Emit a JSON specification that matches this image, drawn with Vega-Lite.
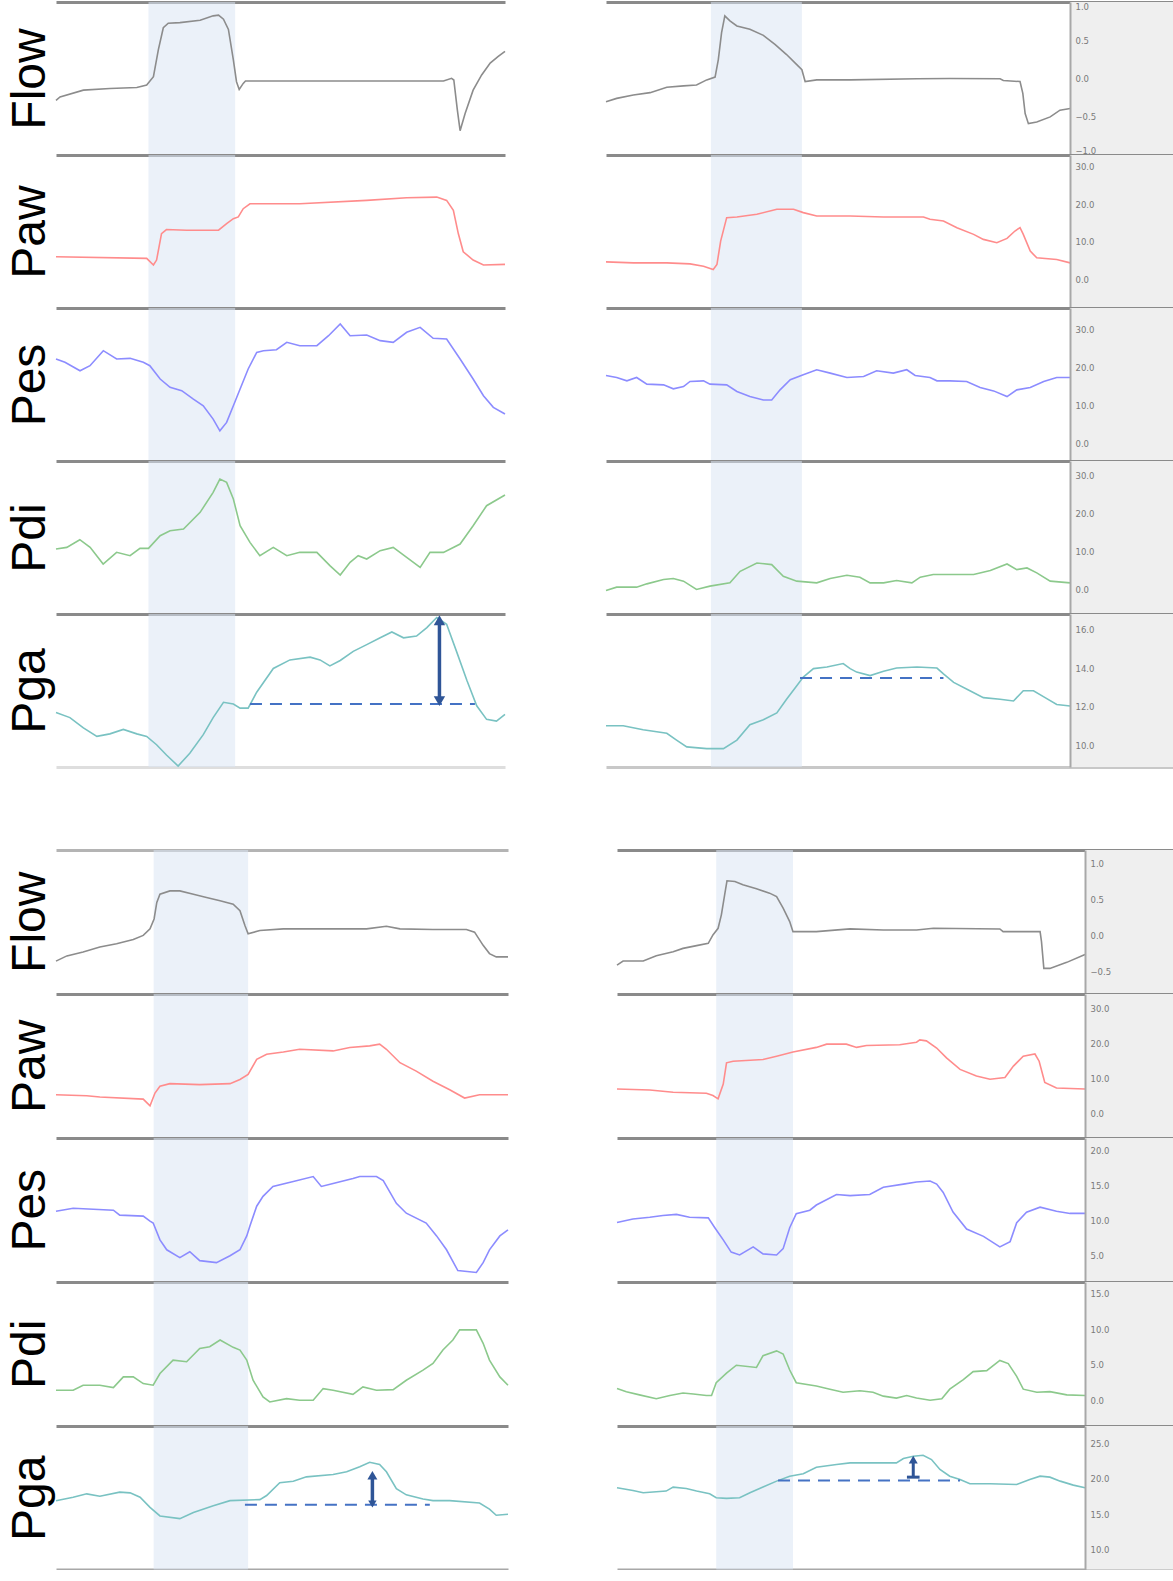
{
"$schema":"https://vega.github.io/schema/vega-lite/v6.json",
"padding":{"top":2,"left":6,"right":0,"bottom":0},
"background":"white",
"config":{
"view":{"stroke":null},
"font":"Liberation Sans",
"axis":{"grid":false,"ticks":false},
"axisTop":{"domainColor":"#8a8a8a","domainWidth":3,"labels":false},
"axisBottom":{"domainColor":"#c4c4c4","domainWidth":3,"labels":false},
"axisLeft":{"domain":false,"labels":false,"titleFont":"Liberation Sans","titleFontSize":48,"titleFontWeight":"normal","titleColor":"#000000","titlePadding":1.5},
"axisRight":{"domainColor":"#a8a8a8","domainWidth":2,"labelFontSize":8.5,"labelColor":"#7a7a7a","labelPadding":5,"labelFont":"DejaVu Sans"}
},
"datasets":{
"bands":[{"p":"TL","a":20.6,"b":39.9},{"p":"TR","a":22.6,"b":42.2},{"p":"BL","a":21.6,"b":42.5},{"p":"BR","a":21.2,"b":37.6}],
"strips":[{"p":"TR","a":100,"b":122.8},{"p":"BR","a":100,"b":119.44}],
"dashes":[{"p":"TL","t1":43.2,"t2":93.3,"v":12.15},{"p":"TR","t1":41.8,"t2":72.7,"v":13.5},{"p":"BL","t1":41.8,"t2":82.7,"v":16.32},{"p":"BR","t1":34.4,"t2":73.3,"v":19.73}],
"arrows":[{"p":"TL","t":85.4,"lo":12.3,"hi":16.48},{"p":"BL","t":70.0,"lo":16.42,"hi":20.47},{"p":"BR","t":63.3,"lo":20.2,"hi":22.68}],
"heads":[{"p":"TL","t":85.4,"v":16.48,"end":"top"},{"p":"TL","t":85.4,"v":12.3,"end":"bottom"},{"p":"BL","t":70.0,"v":20.47,"end":"top"},{"p":"BL","t":70.0,"v":16.42,"end":"bottom"},{"p":"BR","t":63.3,"v":22.68,"end":"top"},{"p":"BR","t":63.3,"v":20.2,"end":"bottom"}],
"traces":[
{"p":"TL","s":"Flow","t":0,"v":-0.285},{"p":"TL","s":"Flow","t":0.9,"v":-0.241},{"p":"TL","s":"Flow","t":6.1,"v":-0.152},{"p":"TL","s":"Flow","t":12.0,"v":-0.130},{"p":"TL","s":"Flow","t":18.0,"v":-0.117},{"p":"TL","s":"Flow","t":20.2,"v":-0.086},{"p":"TL","s":"Flow","t":21.7,"v":0.024},{"p":"TL","s":"Flow","t":22.8,"v":0.377},{"p":"TL","s":"Flow","t":23.9,"v":0.664},{"p":"TL","s":"Flow","t":25.0,"v":0.722},{"p":"TL","s":"Flow","t":27.6,"v":0.731},{"p":"TL","s":"Flow","t":32.1,"v":0.762},{"p":"TL","s":"Flow","t":35.0,"v":0.819},{"p":"TL","s":"Flow","t":36.2,"v":0.828},{"p":"TL","s":"Flow","t":37.3,"v":0.775},{"p":"TL","s":"Flow","t":38.4,"v":0.642},{"p":"TL","s":"Flow","t":39.5,"v":0.245},{"p":"TL","s":"Flow","t":40.2,"v":-0.042},{"p":"TL","s":"Flow","t":40.8,"v":-0.143},{"p":"TL","s":"Flow","t":41.7,"v":-0.064},{"p":"TL","s":"Flow","t":42.2,"v":-0.033},{"p":"TL","s":"Flow","t":61.8,"v":-0.033},{"p":"TL","s":"Flow","t":76.6,"v":-0.033},{"p":"TL","s":"Flow","t":86.3,"v":-0.033},{"p":"TL","s":"Flow","t":88.1,"v":0.002},{"p":"TL","s":"Flow","t":88.6,"v":-0.020},{"p":"TL","s":"Flow","t":89.4,"v":-0.417},{"p":"TL","s":"Flow","t":90.0,"v":-0.682},{"p":"TL","s":"Flow","t":91.1,"v":-0.461},{"p":"TL","s":"Flow","t":92.9,"v":-0.152},{"p":"TL","s":"Flow","t":94.8,"v":0.046},{"p":"TL","s":"Flow","t":96.7,"v":0.201},{"p":"TL","s":"Flow","t":98.5,"v":0.289},{"p":"TL","s":"Flow","t":100,"v":0.355},
{"p":"TL","s":"Paw","t":0,"v":6.07},{"p":"TL","s":"Paw","t":20.2,"v":5.63},{"p":"TL","s":"Paw","t":21.7,"v":3.88},{"p":"TL","s":"Paw","t":22.4,"v":5.19},{"p":"TL","s":"Paw","t":23.5,"v":12.2},{"p":"TL","s":"Paw","t":24.6,"v":13.26},{"p":"TL","s":"Paw","t":29.1,"v":13.09},{"p":"TL","s":"Paw","t":36.2,"v":13.09},{"p":"TL","s":"Paw","t":38.0,"v":14.84},{"p":"TL","s":"Paw","t":39.5,"v":16.16},{"p":"TL","s":"Paw","t":40.6,"v":16.6},{"p":"TL","s":"Paw","t":41.7,"v":18.79},{"p":"TL","s":"Paw","t":43.2,"v":20.1},{"p":"TL","s":"Paw","t":54.3,"v":20.1},{"p":"TL","s":"Paw","t":69.2,"v":20.98},{"p":"TL","s":"Paw","t":78.1,"v":21.68},{"p":"TL","s":"Paw","t":84.8,"v":21.86},{"p":"TL","s":"Paw","t":87.0,"v":20.98},{"p":"TL","s":"Paw","t":88.5,"v":18.35},{"p":"TL","s":"Paw","t":89.6,"v":12.2},{"p":"TL","s":"Paw","t":90.7,"v":7.39},{"p":"TL","s":"Paw","t":92.9,"v":5.19},{"p":"TL","s":"Paw","t":95.2,"v":3.88},{"p":"TL","s":"Paw","t":100,"v":4.05},
{"p":"TL","s":"Pes","t":0,"v":22.16},{"p":"TL","s":"Pes","t":2.0,"v":21.29},{"p":"TL","s":"Pes","t":5.35,"v":19.1},{"p":"TL","s":"Pes","t":7.57,"v":20.42},{"p":"TL","s":"Pes","t":10.54,"v":24.34},{"p":"TL","s":"Pes","t":13.5,"v":22.16},{"p":"TL","s":"Pes","t":16.5,"v":22.34},{"p":"TL","s":"Pes","t":19.45,"v":21.29},{"p":"TL","s":"Pes","t":20.9,"v":20.42},{"p":"TL","s":"Pes","t":23.2,"v":16.93},{"p":"TL","s":"Pes","t":25.4,"v":14.75},{"p":"TL","s":"Pes","t":28.0,"v":13.88},{"p":"TL","s":"Pes","t":30.6,"v":11.68},{"p":"TL","s":"Pes","t":32.8,"v":9.94},{"p":"TL","s":"Pes","t":35.0,"v":6.45},{"p":"TL","s":"Pes","t":36.5,"v":3.4},{"p":"TL","s":"Pes","t":38.0,"v":5.59},{"p":"TL","s":"Pes","t":39.5,"v":9.94},{"p":"TL","s":"Pes","t":41.0,"v":14.31},{"p":"TL","s":"Pes","t":42.8,"v":19.55},{"p":"TL","s":"Pes","t":44.7,"v":23.9},{"p":"TL","s":"Pes","t":46.2,"v":24.34},{"p":"TL","s":"Pes","t":49.1,"v":24.6},{"p":"TL","s":"Pes","t":51.4,"v":26.52},{"p":"TL","s":"Pes","t":54.3,"v":25.65},{"p":"TL","s":"Pes","t":58.1,"v":25.65},{"p":"TL","s":"Pes","t":60.7,"v":28.26},{"p":"TL","s":"Pes","t":63.3,"v":31.32},{"p":"TL","s":"Pes","t":65.5,"v":28.26},{"p":"TL","s":"Pes","t":69.2,"v":28.44},{"p":"TL","s":"Pes","t":72.2,"v":26.96},{"p":"TL","s":"Pes","t":75.1,"v":26.52},{"p":"TL","s":"Pes","t":78.1,"v":29.14},{"p":"TL","s":"Pes","t":81.1,"v":30.44},{"p":"TL","s":"Pes","t":84.0,"v":27.57},{"p":"TL","s":"Pes","t":87.0,"v":27.39},{"p":"TL","s":"Pes","t":90.0,"v":22.16},{"p":"TL","s":"Pes","t":92.9,"v":16.93},{"p":"TL","s":"Pes","t":95.2,"v":12.57},{"p":"TL","s":"Pes","t":97.4,"v":9.52},{"p":"TL","s":"Pes","t":100,"v":7.78},
{"p":"TL","s":"Pdi","t":0,"v":10.6},{"p":"TL","s":"Pdi","t":2.4,"v":11.04},{"p":"TL","s":"Pdi","t":5.3,"v":13.07},{"p":"TL","s":"Pdi","t":7.6,"v":11.04},{"p":"TL","s":"Pdi","t":10.5,"v":6.63},{"p":"TL","s":"Pdi","t":13.5,"v":9.72},{"p":"TL","s":"Pdi","t":16.5,"v":8.83},{"p":"TL","s":"Pdi","t":18.7,"v":10.78},{"p":"TL","s":"Pdi","t":20.6,"v":10.78},{"p":"TL","s":"Pdi","t":23.2,"v":14.13},{"p":"TL","s":"Pdi","t":25.4,"v":15.45},{"p":"TL","s":"Pdi","t":28.4,"v":15.89},{"p":"TL","s":"Pdi","t":32.1,"v":20.31},{"p":"TL","s":"Pdi","t":35.0,"v":25.6},{"p":"TL","s":"Pdi","t":36.5,"v":29.13},{"p":"TL","s":"Pdi","t":38.0,"v":28.25},{"p":"TL","s":"Pdi","t":39.5,"v":23.84},{"p":"TL","s":"Pdi","t":41.0,"v":16.78},{"p":"TL","s":"Pdi","t":43.2,"v":12.36},{"p":"TL","s":"Pdi","t":45.4,"v":8.83},{"p":"TL","s":"Pdi","t":48.4,"v":11.04},{"p":"TL","s":"Pdi","t":51.4,"v":8.83},{"p":"TL","s":"Pdi","t":54.3,"v":9.72},{"p":"TL","s":"Pdi","t":58.1,"v":9.72},{"p":"TL","s":"Pdi","t":61.0,"v":6.19},{"p":"TL","s":"Pdi","t":63.3,"v":3.71},{"p":"TL","s":"Pdi","t":65.5,"v":7.07},{"p":"TL","s":"Pdi","t":67.3,"v":8.83},{"p":"TL","s":"Pdi","t":69.2,"v":7.95},{"p":"TL","s":"Pdi","t":72.2,"v":10.16},{"p":"TL","s":"Pdi","t":75.1,"v":11.04},{"p":"TL","s":"Pdi","t":78.1,"v":8.39},{"p":"TL","s":"Pdi","t":81.1,"v":5.74},{"p":"TL","s":"Pdi","t":83.3,"v":9.72},{"p":"TL","s":"Pdi","t":86.3,"v":9.72},{"p":"TL","s":"Pdi","t":90.0,"v":11.92},{"p":"TL","s":"Pdi","t":92.9,"v":16.78},{"p":"TL","s":"Pdi","t":95.9,"v":22.07},{"p":"TL","s":"Pdi","t":100,"v":24.9},
{"p":"TL","s":"Pga","t":0,"v":11.71},{"p":"TL","s":"Pga","t":3.1,"v":11.45},{"p":"TL","s":"Pga","t":6.1,"v":10.92},{"p":"TL","s":"Pga","t":9.1,"v":10.48},{"p":"TL","s":"Pga","t":12.0,"v":10.61},{"p":"TL","s":"Pga","t":15.0,"v":10.84},{"p":"TL","s":"Pga","t":18.0,"v":10.61},{"p":"TL","s":"Pga","t":20.2,"v":10.48},{"p":"TL","s":"Pga","t":22.4,"v":10.05},{"p":"TL","s":"Pga","t":24.6,"v":9.52},{"p":"TL","s":"Pga","t":27.2,"v":8.95},{"p":"TL","s":"Pga","t":29.8,"v":9.61},{"p":"TL","s":"Pga","t":32.8,"v":10.57},{"p":"TL","s":"Pga","t":35.0,"v":11.45},{"p":"TL","s":"Pga","t":37.3,"v":12.24},{"p":"TL","s":"Pga","t":39.5,"v":12.15},{"p":"TL","s":"Pga","t":41.0,"v":11.94},{"p":"TL","s":"Pga","t":42.8,"v":11.94},{"p":"TL","s":"Pga","t":44.7,"v":12.76},{"p":"TL","s":"Pga","t":48.4,"v":13.99},{"p":"TL","s":"Pga","t":52.1,"v":14.43},{"p":"TL","s":"Pga","t":56.6,"v":14.57},{"p":"TL","s":"Pga","t":58.8,"v":14.43},{"p":"TL","s":"Pga","t":61.0,"v":14.12},{"p":"TL","s":"Pga","t":63.3,"v":14.4},{"p":"TL","s":"Pga","t":66.2,"v":14.87},{"p":"TL","s":"Pga","t":69.2,"v":15.22},{"p":"TL","s":"Pga","t":72.2,"v":15.57},{"p":"TL","s":"Pga","t":74.8,"v":15.87},{"p":"TL","s":"Pga","t":77.4,"v":15.57},{"p":"TL","s":"Pga","t":80.3,"v":15.66},{"p":"TL","s":"Pga","t":82.6,"v":16.1},{"p":"TL","s":"Pga","t":84.8,"v":16.62},{"p":"TL","s":"Pga","t":87.0,"v":16.27},{"p":"TL","s":"Pga","t":89.2,"v":14.87},{"p":"TL","s":"Pga","t":91.5,"v":13.38},{"p":"TL","s":"Pga","t":93.7,"v":12.06},{"p":"TL","s":"Pga","t":95.9,"v":11.36},{"p":"TL","s":"Pga","t":98.1,"v":11.27},{"p":"TL","s":"Pga","t":100,"v":11.62},
{"p":"TR","s":"Flow","t":0,"v":-0.304},{"p":"TR","s":"Flow","t":2.3,"v":-0.26},{"p":"TR","s":"Flow","t":5.9,"v":-0.216},{"p":"TR","s":"Flow","t":9.5,"v":-0.185},{"p":"TR","s":"Flow","t":13.1,"v":-0.115},{"p":"TR","s":"Flow","t":16.7,"v":-0.097},{"p":"TR","s":"Flow","t":19.5,"v":-0.084},{"p":"TR","s":"Flow","t":21.7,"v":-0.018},{"p":"TR","s":"Flow","t":23.5,"v":0.018},{"p":"TR","s":"Flow","t":24.2,"v":0.247},{"p":"TR","s":"Flow","t":24.9,"v":0.599},{"p":"TR","s":"Flow","t":25.6,"v":0.819},{"p":"TR","s":"Flow","t":26.7,"v":0.753},{"p":"TR","s":"Flow","t":28.2,"v":0.687},{"p":"TR","s":"Flow","t":31.0,"v":0.643},{"p":"TR","s":"Flow","t":33.9,"v":0.564},{"p":"TR","s":"Flow","t":36.4,"v":0.445},{"p":"TR","s":"Flow","t":38.9,"v":0.313},{"p":"TR","s":"Flow","t":41.1,"v":0.181},{"p":"TR","s":"Flow","t":42.2,"v":0.115},{"p":"TR","s":"Flow","t":42.9,"v":-0.04},{"p":"TR","s":"Flow","t":45.4,"v":-0.018},{"p":"TR","s":"Flow","t":52.6,"v":-0.018},{"p":"TR","s":"Flow","t":67.0,"v":-0.004},{"p":"TR","s":"Flow","t":74.1,"v":0.0},{"p":"TR","s":"Flow","t":84.9,"v":-0.004},{"p":"TR","s":"Flow","t":85.6,"v":-0.026},{"p":"TR","s":"Flow","t":89.2,"v":-0.04},{"p":"TR","s":"Flow","t":89.8,"v":-0.194},{"p":"TR","s":"Flow","t":90.3,"v":-0.458},{"p":"TR","s":"Flow","t":91.0,"v":-0.59},{"p":"TR","s":"Flow","t":92.8,"v":-0.568},{"p":"TR","s":"Flow","t":95.7,"v":-0.502},{"p":"TR","s":"Flow","t":97.8,"v":-0.414},{"p":"TR","s":"Flow","t":100,"v":-0.392},
{"p":"TR","s":"Paw","t":0,"v":4.72},{"p":"TR","s":"Paw","t":5.9,"v":4.45},{"p":"TR","s":"Paw","t":13.1,"v":4.45},{"p":"TR","s":"Paw","t":18.1,"v":4.19},{"p":"TR","s":"Paw","t":21.0,"v":3.57},{"p":"TR","s":"Paw","t":23.1,"v":2.68},{"p":"TR","s":"Paw","t":23.9,"v":4.01},{"p":"TR","s":"Paw","t":24.7,"v":10.22},{"p":"TR","s":"Paw","t":26.0,"v":16.42},{"p":"TR","s":"Paw","t":28.2,"v":16.6},{"p":"TR","s":"Paw","t":32.5,"v":17.31},{"p":"TR","s":"Paw","t":36.8,"v":18.64},{"p":"TR","s":"Paw","t":40.4,"v":18.64},{"p":"TR","s":"Paw","t":42.5,"v":17.75},{"p":"TR","s":"Paw","t":45.4,"v":16.87},{"p":"TR","s":"Paw","t":52.6,"v":16.87},{"p":"TR","s":"Paw","t":59.8,"v":16.6},{"p":"TR","s":"Paw","t":68.4,"v":16.6},{"p":"TR","s":"Paw","t":69.8,"v":15.98},{"p":"TR","s":"Paw","t":72.7,"v":15.54},{"p":"TR","s":"Paw","t":75.6,"v":13.76},{"p":"TR","s":"Paw","t":79.2,"v":11.99},{"p":"TR","s":"Paw","t":81.3,"v":10.66},{"p":"TR","s":"Paw","t":84.2,"v":9.77},{"p":"TR","s":"Paw","t":86.4,"v":10.93},{"p":"TR","s":"Paw","t":88.1,"v":12.88},{"p":"TR","s":"Paw","t":89.2,"v":13.76},{"p":"TR","s":"Paw","t":89.9,"v":11.99},{"p":"TR","s":"Paw","t":91.4,"v":7.56},{"p":"TR","s":"Paw","t":92.8,"v":5.78},{"p":"TR","s":"Paw","t":97.1,"v":5.34},{"p":"TR","s":"Paw","t":100,"v":4.45},
{"p":"TR","s":"Pes","t":0,"v":17.87},{"p":"TR","s":"Pes","t":2.3,"v":17.34},{"p":"TR","s":"Pes","t":4.5,"v":16.46},{"p":"TR","s":"Pes","t":6.6,"v":17.34},{"p":"TR","s":"Pes","t":8.8,"v":15.59},{"p":"TR","s":"Pes","t":12.4,"v":15.41},{"p":"TR","s":"Pes","t":14.5,"v":14.36},{"p":"TR","s":"Pes","t":16.7,"v":14.97},{"p":"TR","s":"Pes","t":18.1,"v":16.29},{"p":"TR","s":"Pes","t":21.0,"v":16.46},{"p":"TR","s":"Pes","t":22.4,"v":15.59},{"p":"TR","s":"Pes","t":26.0,"v":15.41},{"p":"TR","s":"Pes","t":28.2,"v":13.66},{"p":"TR","s":"Pes","t":31.0,"v":12.34},{"p":"TR","s":"Pes","t":33.9,"v":11.46},{"p":"TR","s":"Pes","t":35.7,"v":11.46},{"p":"TR","s":"Pes","t":37.5,"v":14.1},{"p":"TR","s":"Pes","t":39.7,"v":16.73},{"p":"TR","s":"Pes","t":42.5,"v":18.04},{"p":"TR","s":"Pes","t":45.4,"v":19.36},{"p":"TR","s":"Pes","t":48.3,"v":18.48},{"p":"TR","s":"Pes","t":51.9,"v":17.34},{"p":"TR","s":"Pes","t":55.5,"v":17.61},{"p":"TR","s":"Pes","t":58.3,"v":19.1},{"p":"TR","s":"Pes","t":61.9,"v":18.48},{"p":"TR","s":"Pes","t":64.8,"v":19.36},{"p":"TR","s":"Pes","t":66.6,"v":17.87},{"p":"TR","s":"Pes","t":69.8,"v":17.34},{"p":"TR","s":"Pes","t":71.3,"v":16.46},{"p":"TR","s":"Pes","t":74.1,"v":16.46},{"p":"TR","s":"Pes","t":77.7,"v":16.29},{"p":"TR","s":"Pes","t":80.6,"v":14.71},{"p":"TR","s":"Pes","t":83.5,"v":13.83},{"p":"TR","s":"Pes","t":86.4,"v":12.34},{"p":"TR","s":"Pes","t":88.5,"v":14.1},{"p":"TR","s":"Pes","t":91.4,"v":14.71},{"p":"TR","s":"Pes","t":94.3,"v":16.29},{"p":"TR","s":"Pes","t":97.1,"v":17.34},{"p":"TR","s":"Pes","t":100,"v":17.34},
{"p":"TR","s":"Pdi","t":0,"v":-0.37},{"p":"TR","s":"Pdi","t":2.3,"v":0.51},{"p":"TR","s":"Pdi","t":6.6,"v":0.51},{"p":"TR","s":"Pdi","t":8.8,"v":1.38},{"p":"TR","s":"Pdi","t":12.4,"v":2.52},{"p":"TR","s":"Pdi","t":14.5,"v":2.79},{"p":"TR","s":"Pdi","t":16.7,"v":2.09},{"p":"TR","s":"Pdi","t":19.5,"v":-0.11},{"p":"TR","s":"Pdi","t":22.4,"v":0.77},{"p":"TR","s":"Pdi","t":26.7,"v":1.65},{"p":"TR","s":"Pdi","t":28.9,"v":4.71},{"p":"TR","s":"Pdi","t":32.5,"v":6.91},{"p":"TR","s":"Pdi","t":35.7,"v":6.47},{"p":"TR","s":"Pdi","t":38.2,"v":3.4},{"p":"TR","s":"Pdi","t":41.1,"v":2.09},{"p":"TR","s":"Pdi","t":45.4,"v":1.65},{"p":"TR","s":"Pdi","t":48.3,"v":2.79},{"p":"TR","s":"Pdi","t":51.9,"v":3.66},{"p":"TR","s":"Pdi","t":54.7,"v":3.14},{"p":"TR","s":"Pdi","t":56.9,"v":1.65},{"p":"TR","s":"Pdi","t":59.8,"v":1.65},{"p":"TR","s":"Pdi","t":62.6,"v":2.26},{"p":"TR","s":"Pdi","t":65.9,"v":1.65},{"p":"TR","s":"Pdi","t":67.7,"v":3.14},{"p":"TR","s":"Pdi","t":70.5,"v":3.84},{"p":"TR","s":"Pdi","t":74.1,"v":3.84},{"p":"TR","s":"Pdi","t":79.2,"v":3.84},{"p":"TR","s":"Pdi","t":82.8,"v":4.89},{"p":"TR","s":"Pdi","t":86.4,"v":6.64},{"p":"TR","s":"Pdi","t":88.5,"v":5.15},{"p":"TR","s":"Pdi","t":90.7,"v":5.59},{"p":"TR","s":"Pdi","t":92.8,"v":4.28},{"p":"TR","s":"Pdi","t":95.7,"v":2.09},{"p":"TR","s":"Pdi","t":100,"v":1.65},
{"p":"TR","s":"Pga","t":0,"v":11.03},{"p":"TR","s":"Pga","t":3.7,"v":11.03},{"p":"TR","s":"Pga","t":8.0,"v":10.82},{"p":"TR","s":"Pga","t":13.1,"v":10.64},{"p":"TR","s":"Pga","t":15.2,"v":10.29},{"p":"TR","s":"Pga","t":17.4,"v":9.94},{"p":"TR","s":"Pga","t":21.7,"v":9.85},{"p":"TR","s":"Pga","t":25.3,"v":9.85},{"p":"TR","s":"Pga","t":28.2,"v":10.29},{"p":"TR","s":"Pga","t":31.0,"v":11.08},{"p":"TR","s":"Pga","t":33.9,"v":11.34},{"p":"TR","s":"Pga","t":36.8,"v":11.69},{"p":"TR","s":"Pga","t":38.9,"v":12.4},{"p":"TR","s":"Pga","t":41.1,"v":13.1},{"p":"TR","s":"Pga","t":42.5,"v":13.54},{"p":"TR","s":"Pga","t":44.7,"v":13.98},{"p":"TR","s":"Pga","t":47.6,"v":14.06},{"p":"TR","s":"Pga","t":51.1,"v":14.24},{"p":"TR","s":"Pga","t":52.6,"v":13.98},{"p":"TR","s":"Pga","t":54.0,"v":13.8},{"p":"TR","s":"Pga","t":56.9,"v":13.62},{"p":"TR","s":"Pga","t":59.8,"v":13.84},{"p":"TR","s":"Pga","t":62.6,"v":14.01},{"p":"TR","s":"Pga","t":67.0,"v":14.06},{"p":"TR","s":"Pga","t":71.3,"v":14.01},{"p":"TR","s":"Pga","t":72.7,"v":13.71},{"p":"TR","s":"Pga","t":74.9,"v":13.27},{"p":"TR","s":"Pga","t":78.4,"v":12.84},{"p":"TR","s":"Pga","t":81.3,"v":12.48},{"p":"TR","s":"Pga","t":84.9,"v":12.4},{"p":"TR","s":"Pga","t":87.8,"v":12.31},{"p":"TR","s":"Pga","t":89.9,"v":12.84},{"p":"TR","s":"Pga","t":92.1,"v":12.84},{"p":"TR","s":"Pga","t":94.6,"v":12.48},{"p":"TR","s":"Pga","t":97.1,"v":12.13},{"p":"TR","s":"Pga","t":100,"v":12.05},
{"p":"BL","s":"Flow","t":0,"v":-0.359},{"p":"BL","s":"Flow","t":2.4,"v":-0.286},{"p":"BL","s":"Flow","t":6.0,"v":-0.231},{"p":"BL","s":"Flow","t":9.7,"v":-0.162},{"p":"BL","s":"Flow","t":13.4,"v":-0.116},{"p":"BL","s":"Flow","t":17.1,"v":-0.056},{"p":"BL","s":"Flow","t":19.3,"v":0.0},{"p":"BL","s":"Flow","t":20.8,"v":0.091},{"p":"BL","s":"Flow","t":21.7,"v":0.229},{"p":"BL","s":"Flow","t":22.3,"v":0.459},{"p":"BL","s":"Flow","t":23.0,"v":0.574},{"p":"BL","s":"Flow","t":25.2,"v":0.62},{"p":"BL","s":"Flow","t":27.4,"v":0.62},{"p":"BL","s":"Flow","t":30.4,"v":0.574},{"p":"BL","s":"Flow","t":33.3,"v":0.528},{"p":"BL","s":"Flow","t":36.3,"v":0.482},{"p":"BL","s":"Flow","t":39.2,"v":0.436},{"p":"BL","s":"Flow","t":40.7,"v":0.344},{"p":"BL","s":"Flow","t":41.8,"v":0.137},{"p":"BL","s":"Flow","t":42.5,"v":0.022},{"p":"BL","s":"Flow","t":45.1,"v":0.068},{"p":"BL","s":"Flow","t":50.3,"v":0.091},{"p":"BL","s":"Flow","t":61.3,"v":0.091},{"p":"BL","s":"Flow","t":68.7,"v":0.091},{"p":"BL","s":"Flow","t":73.1,"v":0.128},{"p":"BL","s":"Flow","t":76.1,"v":0.091},{"p":"BL","s":"Flow","t":83.4,"v":0.082},{"p":"BL","s":"Flow","t":90.8,"v":0.082},{"p":"BL","s":"Flow","t":92.6,"v":0.045},{"p":"BL","s":"Flow","t":94.5,"v":-0.139},{"p":"BL","s":"Flow","t":95.9,"v":-0.254},{"p":"BL","s":"Flow","t":97.4,"v":-0.3},{"p":"BL","s":"Flow","t":100,"v":-0.3},
{"p":"BL","s":"Paw","t":0,"v":5.28},{"p":"BL","s":"Paw","t":6.8,"v":4.99},{"p":"BL","s":"Paw","t":9.7,"v":4.61},{"p":"BL","s":"Paw","t":19.3,"v":4.03},{"p":"BL","s":"Paw","t":20.8,"v":2.09},{"p":"BL","s":"Paw","t":21.9,"v":5.77},{"p":"BL","s":"Paw","t":23.0,"v":7.7},{"p":"BL","s":"Paw","t":25.2,"v":8.47},{"p":"BL","s":"Paw","t":31.8,"v":8.18},{"p":"BL","s":"Paw","t":38.5,"v":8.47},{"p":"BL","s":"Paw","t":40.7,"v":9.64},{"p":"BL","s":"Paw","t":42.5,"v":11.09},{"p":"BL","s":"Paw","t":44.4,"v":15.44},{"p":"BL","s":"Paw","t":46.6,"v":16.89},{"p":"BL","s":"Paw","t":50.3,"v":17.57},{"p":"BL","s":"Paw","t":53.9,"v":18.34},{"p":"BL","s":"Paw","t":61.3,"v":17.86},{"p":"BL","s":"Paw","t":65.0,"v":18.82},{"p":"BL","s":"Paw","t":69.4,"v":19.31},{"p":"BL","s":"Paw","t":71.6,"v":19.79},{"p":"BL","s":"Paw","t":73.1,"v":18.34},{"p":"BL","s":"Paw","t":76.1,"v":14.47},{"p":"BL","s":"Paw","t":79.7,"v":12.05},{"p":"BL","s":"Paw","t":83.4,"v":9.15},{"p":"BL","s":"Paw","t":87.1,"v":6.73},{"p":"BL","s":"Paw","t":90.4,"v":4.32},{"p":"BL","s":"Paw","t":93.7,"v":5.28},{"p":"BL","s":"Paw","t":100,"v":5.28},
{"p":"BL","s":"Pes","t":0,"v":11.32},{"p":"BL","s":"Pes","t":3.8,"v":11.74},{"p":"BL","s":"Pes","t":12.7,"v":11.46},{"p":"BL","s":"Pes","t":14.1,"v":10.75},{"p":"BL","s":"Pes","t":19.3,"v":10.61},{"p":"BL","s":"Pes","t":20.8,"v":9.9},{"p":"BL","s":"Pes","t":21.5,"v":9.62},{"p":"BL","s":"Pes","t":23.0,"v":7.21},{"p":"BL","s":"Pes","t":24.5,"v":5.79},{"p":"BL","s":"Pes","t":27.4,"v":4.66},{"p":"BL","s":"Pes","t":29.6,"v":5.51},{"p":"BL","s":"Pes","t":31.8,"v":4.24},{"p":"BL","s":"Pes","t":35.5,"v":3.95},{"p":"BL","s":"Pes","t":38.5,"v":4.94},{"p":"BL","s":"Pes","t":40.7,"v":5.79},{"p":"BL","s":"Pes","t":42.2,"v":7.78},{"p":"BL","s":"Pes","t":42.9,"v":9.19},{"p":"BL","s":"Pes","t":44.4,"v":12.03},{"p":"BL","s":"Pes","t":45.8,"v":13.44},{"p":"BL","s":"Pes","t":48.0,"v":14.86},{"p":"BL","s":"Pes","t":52.5,"v":15.57},{"p":"BL","s":"Pes","t":56.9,"v":16.28},{"p":"BL","s":"Pes","t":58.7,"v":14.86},{"p":"BL","s":"Pes","t":61.3,"v":15.28},{"p":"BL","s":"Pes","t":65.7,"v":15.99},{"p":"BL","s":"Pes","t":67.2,"v":16.28},{"p":"BL","s":"Pes","t":70.9,"v":16.28},{"p":"BL","s":"Pes","t":72.4,"v":15.71},{"p":"BL","s":"Pes","t":75.3,"v":12.45},{"p":"BL","s":"Pes","t":77.5,"v":11.03},{"p":"BL","s":"Pes","t":81.9,"v":9.62},{"p":"BL","s":"Pes","t":84.2,"v":7.78},{"p":"BL","s":"Pes","t":86.4,"v":5.79},{"p":"BL","s":"Pes","t":88.9,"v":2.82},{"p":"BL","s":"Pes","t":93.0,"v":2.54},{"p":"BL","s":"Pes","t":94.5,"v":3.95},{"p":"BL","s":"Pes","t":95.9,"v":5.79},{"p":"BL","s":"Pes","t":98.2,"v":7.78},{"p":"BL","s":"Pes","t":100,"v":8.63},
{"p":"BL","s":"Pdi","t":0,"v":1.44},{"p":"BL","s":"Pdi","t":3.8,"v":1.44},{"p":"BL","s":"Pdi","t":6.0,"v":2.14},{"p":"BL","s":"Pdi","t":9.7,"v":2.14},{"p":"BL","s":"Pdi","t":12.7,"v":1.81},{"p":"BL","s":"Pdi","t":14.9,"v":3.31},{"p":"BL","s":"Pdi","t":17.1,"v":3.31},{"p":"BL","s":"Pdi","t":19.3,"v":2.37},{"p":"BL","s":"Pdi","t":21.5,"v":2.14},{"p":"BL","s":"Pdi","t":23.0,"v":3.78},{"p":"BL","s":"Pdi","t":25.9,"v":5.66},{"p":"BL","s":"Pdi","t":28.9,"v":5.43},{"p":"BL","s":"Pdi","t":31.8,"v":7.3},{"p":"BL","s":"Pdi","t":34.0,"v":7.54},{"p":"BL","s":"Pdi","t":36.3,"v":8.48},{"p":"BL","s":"Pdi","t":39.2,"v":7.45},{"p":"BL","s":"Pdi","t":40.7,"v":7.07},{"p":"BL","s":"Pdi","t":42.2,"v":5.66},{"p":"BL","s":"Pdi","t":43.6,"v":2.84},{"p":"BL","s":"Pdi","t":45.8,"v":0.5},{"p":"BL","s":"Pdi","t":47.3,"v":-0.21},{"p":"BL","s":"Pdi","t":51.0,"v":0.26},{"p":"BL","s":"Pdi","t":53.9,"v":0.03},{"p":"BL","s":"Pdi","t":56.9,"v":0.03},{"p":"BL","s":"Pdi","t":59.1,"v":1.67},{"p":"BL","s":"Pdi","t":61.3,"v":1.44},{"p":"BL","s":"Pdi","t":65.7,"v":0.87},{"p":"BL","s":"Pdi","t":67.9,"v":1.91},{"p":"BL","s":"Pdi","t":70.9,"v":1.44},{"p":"BL","s":"Pdi","t":74.6,"v":1.53},{"p":"BL","s":"Pdi","t":77.5,"v":2.84},{"p":"BL","s":"Pdi","t":81.2,"v":4.25},{"p":"BL","s":"Pdi","t":83.4,"v":5.19},{"p":"BL","s":"Pdi","t":85.6,"v":7.07},{"p":"BL","s":"Pdi","t":87.8,"v":8.48},{"p":"BL","s":"Pdi","t":89.3,"v":9.89},{"p":"BL","s":"Pdi","t":93.0,"v":9.89},{"p":"BL","s":"Pdi","t":94.5,"v":8.01},{"p":"BL","s":"Pdi","t":95.9,"v":5.66},{"p":"BL","s":"Pdi","t":98.2,"v":3.31},{"p":"BL","s":"Pdi","t":100,"v":2.14},
{"p":"BL","s":"Pga","t":0,"v":16.89},{"p":"BL","s":"Pga","t":3.8,"v":17.37},{"p":"BL","s":"Pga","t":6.8,"v":17.85},{"p":"BL","s":"Pga","t":9.7,"v":17.51},{"p":"BL","s":"Pga","t":14.1,"v":18.09},{"p":"BL","s":"Pga","t":16.4,"v":17.99},{"p":"BL","s":"Pga","t":18.6,"v":17.37},{"p":"BL","s":"Pga","t":20.8,"v":15.94},{"p":"BL","s":"Pga","t":23.0,"v":14.74},{"p":"BL","s":"Pga","t":27.4,"v":14.36},{"p":"BL","s":"Pga","t":30.4,"v":15.22},{"p":"BL","s":"Pga","t":34.8,"v":16.18},{"p":"BL","s":"Pga","t":38.5,"v":16.89},{"p":"BL","s":"Pga","t":45.1,"v":17.04},{"p":"BL","s":"Pga","t":46.6,"v":17.61},{"p":"BL","s":"Pga","t":49.5,"v":19.42},{"p":"BL","s":"Pga","t":52.5,"v":19.62},{"p":"BL","s":"Pga","t":55.4,"v":20.24},{"p":"BL","s":"Pga","t":61.3,"v":20.57},{"p":"BL","s":"Pga","t":64.3,"v":20.95},{"p":"BL","s":"Pga","t":67.2,"v":21.67},{"p":"BL","s":"Pga","t":69.4,"v":22.29},{"p":"BL","s":"Pga","t":71.6,"v":22.0},{"p":"BL","s":"Pga","t":73.1,"v":20.95},{"p":"BL","s":"Pga","t":75.3,"v":18.57},{"p":"BL","s":"Pga","t":77.5,"v":17.71},{"p":"BL","s":"Pga","t":81.2,"v":17.13},{"p":"BL","s":"Pga","t":83.4,"v":16.89},{"p":"BL","s":"Pga","t":87.1,"v":16.89},{"p":"BL","s":"Pga","t":93.7,"v":16.56},{"p":"BL","s":"Pga","t":95.9,"v":15.7},{"p":"BL","s":"Pga","t":97.4,"v":14.84},{"p":"BL","s":"Pga","t":100,"v":14.98},
{"p":"BR","s":"Flow","t":0,"v":-0.414},{"p":"BR","s":"Flow","t":1.3,"v":-0.358},{"p":"BR","s":"Flow","t":5.6,"v":-0.358},{"p":"BR","s":"Flow","t":8.4,"v":-0.283},{"p":"BR","s":"Flow","t":12.0,"v":-0.227},{"p":"BR","s":"Flow","t":14.1,"v":-0.181},{"p":"BR","s":"Flow","t":17.0,"v":-0.143},{"p":"BR","s":"Flow","t":19.5,"v":-0.111},{"p":"BR","s":"Flow","t":20.5,"v":0.006},{"p":"BR","s":"Flow","t":21.6,"v":0.099},{"p":"BR","s":"Flow","t":22.3,"v":0.286},{"p":"BR","s":"Flow","t":23.0,"v":0.565},{"p":"BR","s":"Flow","t":23.5,"v":0.761},{"p":"BR","s":"Flow","t":25.2,"v":0.752},{"p":"BR","s":"Flow","t":26.9,"v":0.705},{"p":"BR","s":"Flow","t":29.8,"v":0.649},{"p":"BR","s":"Flow","t":32.6,"v":0.589},{"p":"BR","s":"Flow","t":34.1,"v":0.542},{"p":"BR","s":"Flow","t":35.5,"v":0.379},{"p":"BR","s":"Flow","t":36.9,"v":0.192},{"p":"BR","s":"Flow","t":37.6,"v":0.052},{"p":"BR","s":"Flow","t":42.6,"v":0.052},{"p":"BR","s":"Flow","t":49.8,"v":0.09},{"p":"BR","s":"Flow","t":56.9,"v":0.076},{"p":"BR","s":"Flow","t":64.0,"v":0.076},{"p":"BR","s":"Flow","t":67.6,"v":0.099},{"p":"BR","s":"Flow","t":81.8,"v":0.09},{"p":"BR","s":"Flow","t":82.5,"v":0.052},{"p":"BR","s":"Flow","t":90.4,"v":0.052},{"p":"BR","s":"Flow","t":90.7,"v":-0.087},{"p":"BR","s":"Flow","t":91.2,"v":-0.46},{"p":"BR","s":"Flow","t":92.5,"v":-0.46},{"p":"BR","s":"Flow","t":96.1,"v":-0.376},{"p":"BR","s":"Flow","t":100,"v":-0.265},
{"p":"BR","s":"Paw","t":0,"v":6.92},{"p":"BR","s":"Paw","t":7.0,"v":6.64},{"p":"BR","s":"Paw","t":12.0,"v":5.98},{"p":"BR","s":"Paw","t":19.1,"v":5.7},{"p":"BR","s":"Paw","t":20.5,"v":5.04},{"p":"BR","s":"Paw","t":21.6,"v":4.1},{"p":"BR","s":"Paw","t":22.7,"v":8.33},{"p":"BR","s":"Paw","t":23.4,"v":14.44},{"p":"BR","s":"Paw","t":24.8,"v":14.91},{"p":"BR","s":"Paw","t":31.2,"v":15.39},{"p":"BR","s":"Paw","t":34.1,"v":16.33},{"p":"BR","s":"Paw","t":37.6,"v":17.55},{"p":"BR","s":"Paw","t":42.6,"v":18.87},{"p":"BR","s":"Paw","t":44.8,"v":19.81},{"p":"BR","s":"Paw","t":49.0,"v":19.81},{"p":"BR","s":"Paw","t":51.2,"v":18.87},{"p":"BR","s":"Paw","t":53.3,"v":19.43},{"p":"BR","s":"Paw","t":60.4,"v":19.62},{"p":"BR","s":"Paw","t":64.0,"v":20.37},{"p":"BR","s":"Paw","t":64.7,"v":21.03},{"p":"BR","s":"Paw","t":66.1,"v":20.75},{"p":"BR","s":"Paw","t":68.3,"v":18.68},{"p":"BR","s":"Paw","t":70.4,"v":15.86},{"p":"BR","s":"Paw","t":73.3,"v":12.56},{"p":"BR","s":"Paw","t":76.8,"v":10.68},{"p":"BR","s":"Paw","t":79.7,"v":9.74},{"p":"BR","s":"Paw","t":82.9,"v":10.21},{"p":"BR","s":"Paw","t":84.7,"v":13.5},{"p":"BR","s":"Paw","t":86.8,"v":16.33},{"p":"BR","s":"Paw","t":89.3,"v":16.98},{"p":"BR","s":"Paw","t":90.2,"v":14.91},{"p":"BR","s":"Paw","t":91.4,"v":8.8},{"p":"BR","s":"Paw","t":93.9,"v":7.2},{"p":"BR","s":"Paw","t":100,"v":6.92},
{"p":"BR","s":"Pes","t":0,"v":9.7},{"p":"BR","s":"Pes","t":3.4,"v":10.21},{"p":"BR","s":"Pes","t":7.0,"v":10.45},{"p":"BR","s":"Pes","t":9.8,"v":10.71},{"p":"BR","s":"Pes","t":12.7,"v":10.86},{"p":"BR","s":"Pes","t":15.5,"v":10.45},{"p":"BR","s":"Pes","t":19.5,"v":10.36},{"p":"BR","s":"Pes","t":20.9,"v":8.95},{"p":"BR","s":"Pes","t":22.7,"v":7.21},{"p":"BR","s":"Pes","t":24.4,"v":5.46},{"p":"BR","s":"Pes","t":26.2,"v":5.05},{"p":"BR","s":"Pes","t":29.1,"v":6.21},{"p":"BR","s":"Pes","t":31.2,"v":5.2},{"p":"BR","s":"Pes","t":34.1,"v":5.05},{"p":"BR","s":"Pes","t":35.5,"v":5.95},{"p":"BR","s":"Pes","t":36.9,"v":8.95},{"p":"BR","s":"Pes","t":38.3,"v":10.96},{"p":"BR","s":"Pes","t":41.2,"v":11.46},{"p":"BR","s":"Pes","t":42.6,"v":12.2},{"p":"BR","s":"Pes","t":46.9,"v":13.7},{"p":"BR","s":"Pes","t":49.8,"v":13.55},{"p":"BR","s":"Pes","t":54.0,"v":13.7},{"p":"BR","s":"Pes","t":56.9,"v":14.75},{"p":"BR","s":"Pes","t":61.2,"v":15.2},{"p":"BR","s":"Pes","t":64.0,"v":15.5},{"p":"BR","s":"Pes","t":66.9,"v":15.65},{"p":"BR","s":"Pes","t":68.3,"v":15.2},{"p":"BR","s":"Pes","t":69.7,"v":14.0},{"p":"BR","s":"Pes","t":71.8,"v":11.2},{"p":"BR","s":"Pes","t":74.7,"v":8.76},{"p":"BR","s":"Pes","t":78.3,"v":7.71},{"p":"BR","s":"Pes","t":81.8,"v":6.21},{"p":"BR","s":"Pes","t":84.0,"v":6.96},{"p":"BR","s":"Pes","t":85.4,"v":9.66},{"p":"BR","s":"Pes","t":87.5,"v":11.16},{"p":"BR","s":"Pes","t":90.4,"v":11.9},{"p":"BR","s":"Pes","t":93.9,"v":11.31},{"p":"BR","s":"Pes","t":96.8,"v":11.0},{"p":"BR","s":"Pes","t":100,"v":11.0},
{"p":"BR","s":"Pdi","t":0,"v":1.68},{"p":"BR","s":"Pdi","t":2.0,"v":1.24},{"p":"BR","s":"Pdi","t":4.8,"v":0.79},{"p":"BR","s":"Pdi","t":8.4,"v":0.25},{"p":"BR","s":"Pdi","t":11.3,"v":0.7},{"p":"BR","s":"Pdi","t":14.1,"v":1.06},{"p":"BR","s":"Pdi","t":16.3,"v":0.92},{"p":"BR","s":"Pdi","t":19.1,"v":0.7},{"p":"BR","s":"Pdi","t":20.2,"v":0.7},{"p":"BR","s":"Pdi","t":21.2,"v":2.49},{"p":"BR","s":"Pdi","t":23.4,"v":3.83},{"p":"BR","s":"Pdi","t":25.5,"v":4.94},{"p":"BR","s":"Pdi","t":29.8,"v":4.63},{"p":"BR","s":"Pdi","t":31.2,"v":6.28},{"p":"BR","s":"Pdi","t":34.1,"v":6.95},{"p":"BR","s":"Pdi","t":35.5,"v":6.51},{"p":"BR","s":"Pdi","t":36.9,"v":4.27},{"p":"BR","s":"Pdi","t":38.3,"v":2.49},{"p":"BR","s":"Pdi","t":42.6,"v":2.04},{"p":"BR","s":"Pdi","t":45.5,"v":1.59},{"p":"BR","s":"Pdi","t":48.3,"v":1.15},{"p":"BR","s":"Pdi","t":51.9,"v":1.37},{"p":"BR","s":"Pdi","t":54.7,"v":1.15},{"p":"BR","s":"Pdi","t":56.9,"v":0.61},{"p":"BR","s":"Pdi","t":59.7,"v":0.34},{"p":"BR","s":"Pdi","t":61.9,"v":0.7},{"p":"BR","s":"Pdi","t":64.0,"v":0.34},{"p":"BR","s":"Pdi","t":66.9,"v":0.03},{"p":"BR","s":"Pdi","t":69.4,"v":0.25},{"p":"BR","s":"Pdi","t":71.1,"v":1.59},{"p":"BR","s":"Pdi","t":74.0,"v":2.93},{"p":"BR","s":"Pdi","t":76.1,"v":4.05},{"p":"BR","s":"Pdi","t":79.0,"v":4.18},{"p":"BR","s":"Pdi","t":81.8,"v":5.61},{"p":"BR","s":"Pdi","t":83.6,"v":5.17},{"p":"BR","s":"Pdi","t":85.4,"v":3.38},{"p":"BR","s":"Pdi","t":86.8,"v":1.59},{"p":"BR","s":"Pdi","t":89.7,"v":1.15},{"p":"BR","s":"Pdi","t":92.5,"v":1.24},{"p":"BR","s":"Pdi","t":96.1,"v":0.79},{"p":"BR","s":"Pdi","t":100,"v":0.7},
{"p":"BR","s":"Pga","t":0,"v":18.7},{"p":"BR","s":"Pga","t":3.4,"v":18.33},{"p":"BR","s":"Pga","t":5.6,"v":18.0},{"p":"BR","s":"Pga","t":10.5,"v":18.24},{"p":"BR","s":"Pga","t":12.0,"v":18.8},{"p":"BR","s":"Pga","t":14.8,"v":18.61},{"p":"BR","s":"Pga","t":17.0,"v":18.24},{"p":"BR","s":"Pga","t":19.8,"v":17.86},{"p":"BR","s":"Pga","t":21.2,"v":17.3},{"p":"BR","s":"Pga","t":23.4,"v":17.21},{"p":"BR","s":"Pga","t":26.2,"v":17.3},{"p":"BR","s":"Pga","t":28.4,"v":18.0},{"p":"BR","s":"Pga","t":31.2,"v":18.8},{"p":"BR","s":"Pga","t":34.1,"v":19.64},{"p":"BR","s":"Pga","t":36.9,"v":20.34},{"p":"BR","s":"Pga","t":39.8,"v":20.67},{"p":"BR","s":"Pga","t":42.6,"v":21.6},{"p":"BR","s":"Pga","t":46.9,"v":21.98},{"p":"BR","s":"Pga","t":49.8,"v":22.21},{"p":"BR","s":"Pga","t":54.0,"v":22.21},{"p":"BR","s":"Pga","t":59.7,"v":22.21},{"p":"BR","s":"Pga","t":61.2,"v":22.82},{"p":"BR","s":"Pga","t":63.3,"v":23.15},{"p":"BR","s":"Pga","t":65.4,"v":23.29},{"p":"BR","s":"Pga","t":67.2,"v":22.68},{"p":"BR","s":"Pga","t":69.0,"v":21.28},{"p":"BR","s":"Pga","t":71.1,"v":20.34},{"p":"BR","s":"Pga","t":73.3,"v":19.87},{"p":"BR","s":"Pga","t":75.4,"v":19.27},{"p":"BR","s":"Pga","t":79.7,"v":19.27},{"p":"BR","s":"Pga","t":85.4,"v":19.17},{"p":"BR","s":"Pga","t":88.2,"v":19.87},{"p":"BR","s":"Pga","t":90.4,"v":20.34},{"p":"BR","s":"Pga","t":92.5,"v":20.2},{"p":"BR","s":"Pga","t":94.7,"v":19.64},{"p":"BR","s":"Pga","t":97.5,"v":19.08},{"p":"BR","s":"Pga","t":100,"v":18.7}
]
},
"spacing":80,
"vconcat":[
{"spacing":93,"hconcat":[
{"spacing":0,"vconcat":[
{"width":449,"height":153,"layer":[
{"data":{"name":"bands"},"transform":[{"filter":"datum.p=='TL'"}],"mark":{"type":"rect","color":"#dbe5f4","opacity":0.55},"encoding":{"x":{"field":"a","type":"quantitative","scale":{"domain":[0,100],"nice":false},"axis":{"orient":"top"},"title":null},"x2":{"field":"b"}}},
{"data":{"name":"traces"},"transform":[{"filter":"datum.p=='TL'&&datum.s=='Flow'"}],"mark":{"type":"line","color":"#8c8c8c","strokeWidth":1.6},"encoding":{"x":{"field":"t","type":"quantitative","scale":{"domain":[0,100],"nice":false},"axis":{"orient":"top"},"title":null},"y":{"field":"v","type":"quantitative","scale":{"domain":[-1,1],"nice":false,"zero":false},"title":"Flow"}}}]},
{"width":449,"height":153,"layer":[
{"data":{"name":"bands"},"transform":[{"filter":"datum.p=='TL'"}],"mark":{"type":"rect","color":"#dbe5f4","opacity":0.55},"encoding":{"x":{"field":"a","type":"quantitative","scale":{"domain":[0,100],"nice":false},"axis":{"orient":"top"},"title":null},"x2":{"field":"b"}}},
{"data":{"name":"traces"},"transform":[{"filter":"datum.p=='TL'&&datum.s=='Paw'"}],"mark":{"type":"line","color":"#ff8c8c","strokeWidth":1.6},"encoding":{"x":{"field":"t","type":"quantitative","scale":{"domain":[0,100],"nice":false},"axis":{"orient":"top"},"title":null},"y":{"field":"v","type":"quantitative","scale":{"domain":[-7.5,33],"nice":false,"zero":false},"title":"Paw"}}}]},
{"width":449,"height":153,"layer":[
{"data":{"name":"bands"},"transform":[{"filter":"datum.p=='TL'"}],"mark":{"type":"rect","color":"#dbe5f4","opacity":0.55},"encoding":{"x":{"field":"a","type":"quantitative","scale":{"domain":[0,100],"nice":false},"axis":{"orient":"top"},"title":null},"x2":{"field":"b"}}},
{"data":{"name":"traces"},"transform":[{"filter":"datum.p=='TL'&&datum.s=='Pes'"}],"mark":{"type":"line","color":"#8c8cff","strokeWidth":1.6},"encoding":{"x":{"field":"t","type":"quantitative","scale":{"domain":[0,100],"nice":false},"axis":{"orient":"top"},"title":null},"y":{"field":"v","type":"quantitative","scale":{"domain":[-4.5,35.5],"nice":false,"zero":false},"title":"Pes"}}}]},
{"width":449,"height":153,"layer":[
{"data":{"name":"bands"},"transform":[{"filter":"datum.p=='TL'"}],"mark":{"type":"rect","color":"#dbe5f4","opacity":0.55},"encoding":{"x":{"field":"a","type":"quantitative","scale":{"domain":[0,100],"nice":false},"axis":{"orient":"top"},"title":null},"x2":{"field":"b"}}},
{"data":{"name":"traces"},"transform":[{"filter":"datum.p=='TL'&&datum.s=='Pdi'"}],"mark":{"type":"line","color":"#8cc98c","strokeWidth":1.6},"encoding":{"x":{"field":"t","type":"quantitative","scale":{"domain":[0,100],"nice":false},"axis":{"orient":"top"},"title":null},"y":{"field":"v","type":"quantitative","scale":{"domain":[-6.6,33.9],"nice":false,"zero":false},"title":"Pdi"}}}]},
{"width":449,"height":153,"resolve":{"axis":{"x":"independent"}},"layer":[
{"data":{"name":"bands"},"transform":[{"filter":"datum.p=='TL'"}],"mark":{"type":"rect","color":"#dbe5f4","opacity":0.55},"encoding":{"x":{"field":"a","type":"quantitative","scale":{"domain":[0,100],"nice":false},"axis":{"orient":"bottom","domainColor":"#dedede"},"title":null},"x2":{"field":"b"}}},
{"data":{"name":"traces"},"transform":[{"filter":"datum.p=='TL'&&datum.s=='Pga'"}],"mark":{"type":"line","color":"#79c2c2","strokeWidth":1.6},"encoding":{"x":{"field":"t","type":"quantitative","scale":{"domain":[0,100],"nice":false},"axis":{"orient":"top"},"title":null},"y":{"field":"v","type":"quantitative","scale":{"domain":[8.9,16.8],"nice":false,"zero":false},"title":"Pga"}}},
{"data":{"name":"dashes"},"transform":[{"filter":"datum.p=='TL'"}],"mark":{"type":"rule","color":"#4472c4","strokeWidth":2,"strokeDash":[12,8]},"encoding":{"x":{"field":"t1","type":"quantitative","scale":{"domain":[0,100],"nice":false},"axis":null},"x2":{"field":"t2"},"y":{"field":"v","type":"quantitative","scale":{"domain":[8.9,16.8],"nice":false,"zero":false},"title":"Pga"}}},
{"data":{"name":"arrows"},"transform":[{"filter":"datum.p=='TL'"}],"mark":{"type":"rule","color":"#2f5597","strokeWidth":3.5},"encoding":{"x":{"field":"t","type":"quantitative","scale":{"domain":[0,100],"nice":false},"axis":null},"y":{"field":"lo","type":"quantitative","scale":{"domain":[8.9,16.8],"nice":false,"zero":false},"title":"Pga"},"y2":{"field":"hi"}}},
{"data":{"name":"heads"},"transform":[{"filter":"datum.p=='TL'&&datum.end=='top'"}],"mark":{"type":"point","shape":"triangle-up","filled":true,"size":130,"color":"#2f5597","opacity":1},"encoding":{"x":{"field":"t","type":"quantitative","scale":{"domain":[0,100],"nice":false},"axis":null},"y":{"field":"v","type":"quantitative","scale":{"domain":[8.9,16.8],"nice":false,"zero":false},"title":"Pga"}}},
{"data":{"name":"heads"},"transform":[{"filter":"datum.p=='TL'&&datum.end=='bottom'"}],"mark":{"type":"point","shape":"triangle-down","filled":true,"size":130,"color":"#2f5597","opacity":1},"encoding":{"x":{"field":"t","type":"quantitative","scale":{"domain":[0,100],"nice":false},"axis":null},"y":{"field":"v","type":"quantitative","scale":{"domain":[8.9,16.8],"nice":false,"zero":false},"title":"Pga"}}}]}
]},
{"spacing":0,"vconcat":[
{"width":570,"height":153,"layer":[
{"data":{"name":"strips"},"transform":[{"filter":"datum.p=='TR'"}],"mark":{"type":"rect","color":"#efefef"},"encoding":{"x":{"field":"a","type":"quantitative","scale":{"domain":[0,122.8],"nice":false},"axis":{"orient":"top"},"title":null},"x2":{"field":"b"}}},
{"data":{"name":"bands"},"transform":[{"filter":"datum.p=='TR'"}],"mark":{"type":"rect","color":"#dbe5f4","opacity":0.55},"encoding":{"x":{"field":"a","type":"quantitative","scale":{"domain":[0,122.8],"nice":false},"axis":{"orient":"top"},"title":null},"x2":{"field":"b"}}},
{"data":{"name":"traces"},"transform":[{"filter":"datum.p=='TR'&&datum.s=='Flow'"}],"mark":{"type":"line","color":"#8c8c8c","strokeWidth":1.6},"encoding":{"x":{"field":"t","type":"quantitative","scale":{"domain":[0,122.8],"nice":false},"axis":{"orient":"top"},"title":null},"y":{"field":"v","type":"quantitative","scale":{"domain":[-1,1],"nice":false,"zero":false},"title":null,"axis":{"orient":"right","offset":-106,"values":[-1,-0.5,0,0.5,1],"format":".1f","labelFlush":true,"zindex":1}}}}]},
{"width":570,"height":153,"layer":[
{"data":{"name":"strips"},"transform":[{"filter":"datum.p=='TR'"}],"mark":{"type":"rect","color":"#efefef"},"encoding":{"x":{"field":"a","type":"quantitative","scale":{"domain":[0,122.8],"nice":false},"axis":{"orient":"top"},"title":null},"x2":{"field":"b"}}},
{"data":{"name":"bands"},"transform":[{"filter":"datum.p=='TR'"}],"mark":{"type":"rect","color":"#dbe5f4","opacity":0.55},"encoding":{"x":{"field":"a","type":"quantitative","scale":{"domain":[0,122.8],"nice":false},"axis":{"orient":"top"},"title":null},"x2":{"field":"b"}}},
{"data":{"name":"traces"},"transform":[{"filter":"datum.p=='TR'&&datum.s=='Paw'"}],"mark":{"type":"line","color":"#ff8c8c","strokeWidth":1.6},"encoding":{"x":{"field":"t","type":"quantitative","scale":{"domain":[0,122.8],"nice":false},"axis":{"orient":"top"},"title":null},"y":{"field":"v","type":"quantitative","scale":{"domain":[-7.5,33],"nice":false,"zero":false},"title":null,"axis":{"orient":"right","offset":-106,"values":[0,10,20,30],"format":".1f","zindex":1}}}}]},
{"width":570,"height":153,"layer":[
{"data":{"name":"strips"},"transform":[{"filter":"datum.p=='TR'"}],"mark":{"type":"rect","color":"#efefef"},"encoding":{"x":{"field":"a","type":"quantitative","scale":{"domain":[0,122.8],"nice":false},"axis":{"orient":"top"},"title":null},"x2":{"field":"b"}}},
{"data":{"name":"bands"},"transform":[{"filter":"datum.p=='TR'"}],"mark":{"type":"rect","color":"#dbe5f4","opacity":0.55},"encoding":{"x":{"field":"a","type":"quantitative","scale":{"domain":[0,122.8],"nice":false},"axis":{"orient":"top"},"title":null},"x2":{"field":"b"}}},
{"data":{"name":"traces"},"transform":[{"filter":"datum.p=='TR'&&datum.s=='Pes'"}],"mark":{"type":"line","color":"#8c8cff","strokeWidth":1.6},"encoding":{"x":{"field":"t","type":"quantitative","scale":{"domain":[0,122.8],"nice":false},"axis":{"orient":"top"},"title":null},"y":{"field":"v","type":"quantitative","scale":{"domain":[-4.5,35.5],"nice":false,"zero":false},"title":null,"axis":{"orient":"right","offset":-106,"values":[0,10,20,30],"format":".1f","zindex":1}}}}]},
{"width":570,"height":153,"layer":[
{"data":{"name":"strips"},"transform":[{"filter":"datum.p=='TR'"}],"mark":{"type":"rect","color":"#efefef"},"encoding":{"x":{"field":"a","type":"quantitative","scale":{"domain":[0,122.8],"nice":false},"axis":{"orient":"top"},"title":null},"x2":{"field":"b"}}},
{"data":{"name":"bands"},"transform":[{"filter":"datum.p=='TR'"}],"mark":{"type":"rect","color":"#dbe5f4","opacity":0.55},"encoding":{"x":{"field":"a","type":"quantitative","scale":{"domain":[0,122.8],"nice":false},"axis":{"orient":"top"},"title":null},"x2":{"field":"b"}}},
{"data":{"name":"traces"},"transform":[{"filter":"datum.p=='TR'&&datum.s=='Pdi'"}],"mark":{"type":"line","color":"#8cc98c","strokeWidth":1.6},"encoding":{"x":{"field":"t","type":"quantitative","scale":{"domain":[0,122.8],"nice":false},"axis":{"orient":"top"},"title":null},"y":{"field":"v","type":"quantitative","scale":{"domain":[-6.6,33.9],"nice":false,"zero":false},"title":null,"axis":{"orient":"right","offset":-106,"values":[0,10,20,30],"format":".1f","zindex":1}}}}]},
{"width":570,"height":153,"resolve":{"axis":{"x":"independent"}},"layer":[
{"data":{"name":"strips"},"transform":[{"filter":"datum.p=='TR'"}],"mark":{"type":"rect","color":"#efefef"},"encoding":{"x":{"field":"a","type":"quantitative","scale":{"domain":[0,122.8],"nice":false},"axis":null,"title":null},"x2":{"field":"b"}}},
{"data":{"name":"bands"},"transform":[{"filter":"datum.p=='TR'"}],"mark":{"type":"rect","color":"#dbe5f4","opacity":0.55},"encoding":{"x":{"field":"a","type":"quantitative","scale":{"domain":[0,122.8],"nice":false},"axis":{"orient":"bottom","domainColor":"#c8c8c8"},"title":null},"x2":{"field":"b"}}},
{"data":{"name":"traces"},"transform":[{"filter":"datum.p=='TR'&&datum.s=='Pga'"}],"mark":{"type":"line","color":"#79c2c2","strokeWidth":1.6},"encoding":{"x":{"field":"t","type":"quantitative","scale":{"domain":[0,122.8],"nice":false},"axis":{"orient":"top"},"title":null},"y":{"field":"v","type":"quantitative","scale":{"domain":[8.9,16.8],"nice":false,"zero":false},"title":null,"axis":{"orient":"right","offset":-106,"values":[10,12,14,16],"format":".1f","zindex":1}}}},
{"data":{"name":"dashes"},"transform":[{"filter":"datum.p=='TR'"}],"mark":{"type":"rule","color":"#4472c4","strokeWidth":2,"strokeDash":[12,8]},"encoding":{"x":{"field":"t1","type":"quantitative","scale":{"domain":[0,122.8],"nice":false},"axis":null},"x2":{"field":"t2"},"y":{"field":"v","type":"quantitative","scale":{"domain":[8.9,16.8],"nice":false,"zero":false},"title":null}}}]}
]}
]},
{"spacing":101,"hconcat":[
{"spacing":0,"vconcat":[
{"width":452,"height":143.5,"layer":[
{"data":{"name":"bands"},"transform":[{"filter":"datum.p=='BL'"}],"mark":{"type":"rect","color":"#dbe5f4","opacity":0.55},"encoding":{"x":{"field":"a","type":"quantitative","scale":{"domain":[0,100],"nice":false},"axis":{"orient":"top","domainColor":"#b4b4b4"},"title":null},"x2":{"field":"b"}}},
{"data":{"name":"traces"},"transform":[{"filter":"datum.p=='BL'&&datum.s=='Flow'"}],"mark":{"type":"line","color":"#8c8c8c","strokeWidth":1.6},"encoding":{"x":{"field":"t","type":"quantitative","scale":{"domain":[0,100],"nice":false},"axis":{"orient":"top","domainColor":"#b4b4b4"},"title":null},"y":{"field":"v","type":"quantitative","scale":{"domain":[-0.81,1.19],"nice":false,"zero":false},"title":"Flow"}}}]},
{"width":452,"height":143.5,"layer":[
{"data":{"name":"bands"},"transform":[{"filter":"datum.p=='BL'"}],"mark":{"type":"rect","color":"#dbe5f4","opacity":0.55},"encoding":{"x":{"field":"a","type":"quantitative","scale":{"domain":[0,100],"nice":false},"axis":{"orient":"top"},"title":null},"x2":{"field":"b"}}},
{"data":{"name":"traces"},"transform":[{"filter":"datum.p=='BL'&&datum.s=='Paw'"}],"mark":{"type":"line","color":"#ff8c8c","strokeWidth":1.6},"encoding":{"x":{"field":"t","type":"quantitative","scale":{"domain":[0,100],"nice":false},"axis":{"orient":"top"},"title":null},"y":{"field":"v","type":"quantitative","scale":{"domain":[-7,34.2],"nice":false,"zero":false},"title":"Paw"}}}]},
{"width":452,"height":143.5,"layer":[
{"data":{"name":"bands"},"transform":[{"filter":"datum.p=='BL'"}],"mark":{"type":"rect","color":"#dbe5f4","opacity":0.55},"encoding":{"x":{"field":"a","type":"quantitative","scale":{"domain":[0,100],"nice":false},"axis":{"orient":"top"},"title":null},"x2":{"field":"b"}}},
{"data":{"name":"traces"},"transform":[{"filter":"datum.p=='BL'&&datum.s=='Pes'"}],"mark":{"type":"line","color":"#8c8cff","strokeWidth":1.6},"encoding":{"x":{"field":"t","type":"quantitative","scale":{"domain":[0,100],"nice":false},"axis":{"orient":"top"},"title":null},"y":{"field":"v","type":"quantitative","scale":{"domain":[1.25,21.8],"nice":false,"zero":false},"title":"Pes"}}}]},
{"width":452,"height":143.5,"layer":[
{"data":{"name":"bands"},"transform":[{"filter":"datum.p=='BL'"}],"mark":{"type":"rect","color":"#dbe5f4","opacity":0.55},"encoding":{"x":{"field":"a","type":"quantitative","scale":{"domain":[0,100],"nice":false},"axis":{"orient":"top"},"title":null},"x2":{"field":"b"}}},
{"data":{"name":"traces"},"transform":[{"filter":"datum.p=='BL'&&datum.s=='Pdi'"}],"mark":{"type":"line","color":"#8cc98c","strokeWidth":1.6},"encoding":{"x":{"field":"t","type":"quantitative","scale":{"domain":[0,100],"nice":false},"axis":{"orient":"top"},"title":null},"y":{"field":"v","type":"quantitative","scale":{"domain":[-3.5,16.6],"nice":false,"zero":false},"title":"Pdi"}}}]},
{"width":452,"height":143.5,"resolve":{"axis":{"x":"independent"}},"layer":[
{"data":{"name":"bands"},"transform":[{"filter":"datum.p=='BL'"}],"mark":{"type":"rect","color":"#dbe5f4","opacity":0.55},"encoding":{"x":{"field":"a","type":"quantitative","scale":{"domain":[0,100],"nice":false},"axis":{"orient":"bottom","domainColor":"#a8a8a8"},"title":null},"x2":{"field":"b"}}},
{"data":{"name":"traces"},"transform":[{"filter":"datum.p=='BL'&&datum.s=='Pga'"}],"mark":{"type":"line","color":"#79c2c2","strokeWidth":1.6},"encoding":{"x":{"field":"t","type":"quantitative","scale":{"domain":[0,100],"nice":false},"axis":{"orient":"top"},"title":null},"y":{"field":"v","type":"quantitative","scale":{"domain":[7.2,27.4],"nice":false,"zero":false},"title":"Pga"}}},
{"data":{"name":"dashes"},"transform":[{"filter":"datum.p=='BL'"}],"mark":{"type":"rule","color":"#4472c4","strokeWidth":2,"strokeDash":[12,8]},"encoding":{"x":{"field":"t1","type":"quantitative","scale":{"domain":[0,100],"nice":false},"axis":null},"x2":{"field":"t2"},"y":{"field":"v","type":"quantitative","scale":{"domain":[7.2,27.4],"nice":false,"zero":false},"title":"Pga"}}},
{"data":{"name":"arrows"},"transform":[{"filter":"datum.p=='BL'"}],"mark":{"type":"rule","color":"#2f5597","strokeWidth":3.5},"encoding":{"x":{"field":"t","type":"quantitative","scale":{"domain":[0,100],"nice":false},"axis":null},"y":{"field":"lo","type":"quantitative","scale":{"domain":[7.2,27.4],"nice":false,"zero":false},"title":"Pga"},"y2":{"field":"hi"}}},
{"data":{"name":"heads"},"transform":[{"filter":"datum.p=='BL'&&datum.end=='top'"}],"mark":{"type":"point","shape":"triangle-up","filled":true,"size":100,"color":"#2f5597","opacity":1},"encoding":{"x":{"field":"t","type":"quantitative","scale":{"domain":[0,100],"nice":false},"axis":null},"y":{"field":"v","type":"quantitative","scale":{"domain":[7.2,27.4],"nice":false,"zero":false},"title":"Pga"}}},
{"data":{"name":"heads"},"transform":[{"filter":"datum.p=='BL'&&datum.end=='bottom'"}],"mark":{"type":"point","shape":"triangle-down","filled":true,"size":70,"color":"#2f5597","opacity":1},"encoding":{"x":{"field":"t","type":"quantitative","scale":{"domain":[0,100],"nice":false},"axis":null},"y":{"field":"v","type":"quantitative","scale":{"domain":[7.2,27.4],"nice":false,"zero":false},"title":"Pga"}}}]}
]},
{"spacing":0,"vconcat":[
{"width":559,"height":143.5,"layer":[
{"data":{"name":"strips"},"transform":[{"filter":"datum.p=='BR'"}],"mark":{"type":"rect","color":"#efefef"},"encoding":{"x":{"field":"a","type":"quantitative","scale":{"domain":[0,119.44],"nice":false},"axis":{"orient":"top"},"title":null},"x2":{"field":"b"}}},
{"data":{"name":"bands"},"transform":[{"filter":"datum.p=='BR'"}],"mark":{"type":"rect","color":"#dbe5f4","opacity":0.55},"encoding":{"x":{"field":"a","type":"quantitative","scale":{"domain":[0,119.44],"nice":false},"axis":{"orient":"top"},"title":null},"x2":{"field":"b"}}},
{"data":{"name":"traces"},"transform":[{"filter":"datum.p=='BR'&&datum.s=='Flow'"}],"mark":{"type":"line","color":"#8c8c8c","strokeWidth":1.6},"encoding":{"x":{"field":"t","type":"quantitative","scale":{"domain":[0,119.44],"nice":false},"axis":{"orient":"top"},"title":null},"y":{"field":"v","type":"quantitative","scale":{"domain":[-0.81,1.19],"nice":false,"zero":false},"title":null,"axis":{"orient":"right","offset":-91,"values":[-0.5,0,0.5,1],"format":".1f","zindex":1}}}}]},
{"width":559,"height":143.5,"layer":[
{"data":{"name":"strips"},"transform":[{"filter":"datum.p=='BR'"}],"mark":{"type":"rect","color":"#efefef"},"encoding":{"x":{"field":"a","type":"quantitative","scale":{"domain":[0,119.44],"nice":false},"axis":{"orient":"top"},"title":null},"x2":{"field":"b"}}},
{"data":{"name":"bands"},"transform":[{"filter":"datum.p=='BR'"}],"mark":{"type":"rect","color":"#dbe5f4","opacity":0.55},"encoding":{"x":{"field":"a","type":"quantitative","scale":{"domain":[0,119.44],"nice":false},"axis":{"orient":"top"},"title":null},"x2":{"field":"b"}}},
{"data":{"name":"traces"},"transform":[{"filter":"datum.p=='BR'&&datum.s=='Paw'"}],"mark":{"type":"line","color":"#ff8c8c","strokeWidth":1.6},"encoding":{"x":{"field":"t","type":"quantitative","scale":{"domain":[0,119.44],"nice":false},"axis":{"orient":"top"},"title":null},"y":{"field":"v","type":"quantitative","scale":{"domain":[-7,34.2],"nice":false,"zero":false},"title":null,"axis":{"orient":"right","offset":-91,"values":[0,10,20,30],"format":".1f","zindex":1}}}}]},
{"width":559,"height":143.5,"layer":[
{"data":{"name":"strips"},"transform":[{"filter":"datum.p=='BR'"}],"mark":{"type":"rect","color":"#efefef"},"encoding":{"x":{"field":"a","type":"quantitative","scale":{"domain":[0,119.44],"nice":false},"axis":{"orient":"top"},"title":null},"x2":{"field":"b"}}},
{"data":{"name":"bands"},"transform":[{"filter":"datum.p=='BR'"}],"mark":{"type":"rect","color":"#dbe5f4","opacity":0.55},"encoding":{"x":{"field":"a","type":"quantitative","scale":{"domain":[0,119.44],"nice":false},"axis":{"orient":"top"},"title":null},"x2":{"field":"b"}}},
{"data":{"name":"traces"},"transform":[{"filter":"datum.p=='BR'&&datum.s=='Pes'"}],"mark":{"type":"line","color":"#8c8cff","strokeWidth":1.6},"encoding":{"x":{"field":"t","type":"quantitative","scale":{"domain":[0,119.44],"nice":false},"axis":{"orient":"top"},"title":null},"y":{"field":"v","type":"quantitative","scale":{"domain":[1.25,21.8],"nice":false,"zero":false},"title":null,"axis":{"orient":"right","offset":-91,"values":[5,10,15,20],"format":".1f","zindex":1}}}}]},
{"width":559,"height":143.5,"layer":[
{"data":{"name":"strips"},"transform":[{"filter":"datum.p=='BR'"}],"mark":{"type":"rect","color":"#efefef"},"encoding":{"x":{"field":"a","type":"quantitative","scale":{"domain":[0,119.44],"nice":false},"axis":{"orient":"top"},"title":null},"x2":{"field":"b"}}},
{"data":{"name":"bands"},"transform":[{"filter":"datum.p=='BR'"}],"mark":{"type":"rect","color":"#dbe5f4","opacity":0.55},"encoding":{"x":{"field":"a","type":"quantitative","scale":{"domain":[0,119.44],"nice":false},"axis":{"orient":"top"},"title":null},"x2":{"field":"b"}}},
{"data":{"name":"traces"},"transform":[{"filter":"datum.p=='BR'&&datum.s=='Pdi'"}],"mark":{"type":"line","color":"#8cc98c","strokeWidth":1.6},"encoding":{"x":{"field":"t","type":"quantitative","scale":{"domain":[0,119.44],"nice":false},"axis":{"orient":"top"},"title":null},"y":{"field":"v","type":"quantitative","scale":{"domain":[-3.5,16.6],"nice":false,"zero":false},"title":null,"axis":{"orient":"right","offset":-91,"values":[0,5,10,15],"format":".1f","zindex":1}}}}]},
{"width":559,"height":143.5,"resolve":{"axis":{"x":"independent"}},"layer":[
{"data":{"name":"strips"},"transform":[{"filter":"datum.p=='BR'"}],"mark":{"type":"rect","color":"#efefef"},"encoding":{"x":{"field":"a","type":"quantitative","scale":{"domain":[0,119.44],"nice":false},"axis":null,"title":null},"x2":{"field":"b"}}},
{"data":{"name":"bands"},"transform":[{"filter":"datum.p=='BR'"}],"mark":{"type":"rect","color":"#dbe5f4","opacity":0.55},"encoding":{"x":{"field":"a","type":"quantitative","scale":{"domain":[0,119.44],"nice":false},"axis":{"orient":"bottom","domainColor":"#a8a8a8"},"title":null},"x2":{"field":"b"}}},
{"data":{"name":"traces"},"transform":[{"filter":"datum.p=='BR'&&datum.s=='Pga'"}],"mark":{"type":"line","color":"#79c2c2","strokeWidth":1.6},"encoding":{"x":{"field":"t","type":"quantitative","scale":{"domain":[0,119.44],"nice":false},"axis":{"orient":"top"},"title":null},"y":{"field":"v","type":"quantitative","scale":{"domain":[7.2,27.4],"nice":false,"zero":false},"title":null,"axis":{"orient":"right","offset":-91,"values":[10,15,20,25],"format":".1f","zindex":1}}}},
{"data":{"name":"dashes"},"transform":[{"filter":"datum.p=='BR'"}],"mark":{"type":"rule","color":"#4472c4","strokeWidth":2,"strokeDash":[12,8]},"encoding":{"x":{"field":"t1","type":"quantitative","scale":{"domain":[0,119.44],"nice":false},"axis":null},"x2":{"field":"t2"},"y":{"field":"v","type":"quantitative","scale":{"domain":[7.2,27.4],"nice":false,"zero":false},"title":null}}},
{"data":{"name":"arrows"},"transform":[{"filter":"datum.p=='BR'"}],"mark":{"type":"rule","color":"#2f5597","strokeWidth":3},"encoding":{"x":{"field":"t","type":"quantitative","scale":{"domain":[0,119.44],"nice":false},"axis":null},"y":{"field":"lo","type":"quantitative","scale":{"domain":[7.2,27.4],"nice":false,"zero":false},"title":null},"y2":{"field":"hi"}}},
{"data":{"name":"heads"},"transform":[{"filter":"datum.p=='BR'&&datum.end=='top'"}],"mark":{"type":"point","shape":"triangle-up","filled":true,"size":80,"color":"#2f5597","opacity":1},"encoding":{"x":{"field":"t","type":"quantitative","scale":{"domain":[0,119.44],"nice":false},"axis":null},"y":{"field":"v","type":"quantitative","scale":{"domain":[7.2,27.4],"nice":false,"zero":false},"title":null}}},
{"data":{"name":"heads"},"transform":[{"filter":"datum.p=='BR'&&datum.end=='bottom'"}],"mark":{"type":"point","shape":"stroke","filled":false,"size":160,"strokeWidth":3,"color":"#2f5597","opacity":1},"encoding":{"x":{"field":"t","type":"quantitative","scale":{"domain":[0,119.44],"nice":false},"axis":null},"y":{"field":"v","type":"quantitative","scale":{"domain":[7.2,27.4],"nice":false,"zero":false},"title":null}}}]}
]}
]}
]
}
